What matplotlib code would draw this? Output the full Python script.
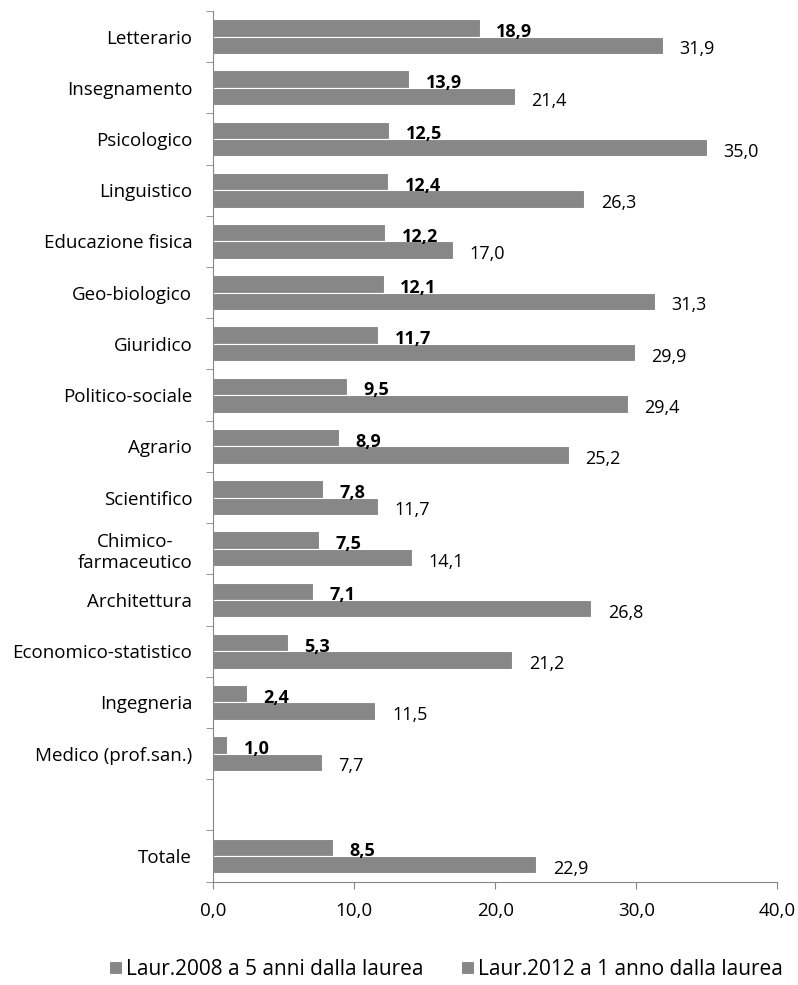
import matplotlib.pyplot as plt
import numpy as np

plt.rcParams['font.family'] = ['Open Sans', 'DejaVu Sans']

gruppi = ['Letterario', 'Insegnamento', 'Psicologico', 'Linguistico', 'Educazione fisica',
          'Geo-biologico', 'Giuridico', 'Politico-sociale', 'Agrario', 'Scientifico',
          'Chimico-\nfarmaceutico', 'Architettura', 'Economico-statistico', 'Ingegneria',
          'Medico (prof.san.)', '', 'Totale']
laur2008 = [18.9, 13.9, 12.5, 12.4, 12.2, 12.1, 11.7, 9.5, 8.9, 7.8, 7.5, 7.1, 5.3, 2.4, 1.0, np.nan, 8.5]
laur2012 = [31.9, 21.4, 35.0, 26.3, 17.0, 31.3, 29.9, 29.4, 25.2, 11.7, 14.1, 26.8, 21.2, 11.5, 7.7, np.nan, 22.9]

grigio = '#878787'
fig = plt.figure(figsize=(7.98, 9.85), dpi=100)
ax = fig.add_axes([0.267, 0.105, 0.707, 0.8838])

n = len(gruppi)
y = np.arange(n)
h = 0.34

b1 = ax.barh(y - h / 2, laur2008, height=h, color=grigio, edgecolor='white', linewidth=0.8,
             label='Laur.2008 a 5 anni dalla laurea')
b2 = ax.barh(y + h / 2, laur2012, height=h, color=grigio, edgecolor='white', linewidth=0.8,
             label='Laur.2012 a 1 anno dalla laurea')

def fmt(v):
    return f'{v:.1f}'.replace('.', ',')

for yi, v in zip(y, laur2008):
    if not np.isnan(v):
        ax.annotate(fmt(v), (v, yi - h / 2 + 0.08), xytext=(12, 0), textcoords='offset points',
                    va='center', ha='left', fontsize=13, fontweight='bold')
for yi, v in zip(y, laur2012):
    if not np.isnan(v):
        ax.annotate(fmt(v), (v, yi + h / 2 + 0.08), xytext=(12, 0), textcoords='offset points',
                    va='center', ha='left', fontsize=13)

ax.set_ylim(n - 0.5, -0.5)
ax.set_yticks(y)
ax.set_yticklabels(gruppi, fontsize=13.5)
ax.set_yticks(np.arange(n + 1) - 0.5, minor=True)
ax.tick_params(axis='y', which='major', length=0, pad=15)
ax.tick_params(axis='y', which='minor', length=5, color='#868686')

ax.set_xlim(0, 40)
ax.set_xticks([0, 10, 20, 30, 40])
ax.set_xticklabels([fmt(v) for v in [0, 10, 20, 30, 40]], fontsize=13.5)
ax.tick_params(axis='x', length=5, color='#868686', pad=10)

for s in ['top', 'right']:
    ax.spines[s].set_visible(False)
for s in ['left', 'bottom']:
    ax.spines[s].set_color('#868686')

for lbl in ax.get_yticklabels():
    lbl.set_multialignment('center')

fig.legend(handles=[b1, b2], loc='center', bbox_to_anchor=(0.559, 0.016), ncol=2, frameon=False,
           fontsize=15, handlelength=0.6, handleheight=0.6, handletextpad=0.2, columnspacing=1.8)

fig.savefig('out.png', dpi=100)
